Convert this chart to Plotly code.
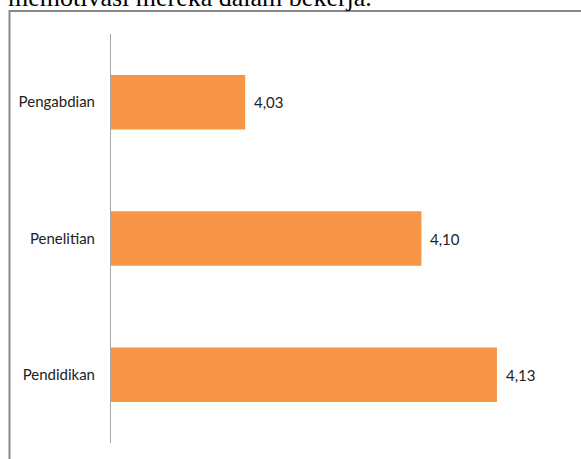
import plotly.graph_objects as go

categories = ["Pendidikan", "Penelitian", "Pengabdian"]
values = [4.13, 4.10, 4.03]
value_labels = ["4,13", "4,10", "4,03"]
heading = "memotivasi mereka dalam bekerja."

W, H = 581, 459
L, R, T, B = 111, 16, 34, 16
pw, ph = W - L - R, H - T - B

def px(x):
    return (x - L) / pw

def py(y):
    return (H - B - y) / ph

fig = go.Figure(go.Bar(
    y=categories, x=values, orientation="h",
    marker=dict(color="#F79646", line=dict(width=0)),
    hoverinfo="skip",
))

label_annots = [
    dict(x=v, y=c, text=t, xref="x", yref="y", xanchor="left", yanchor="middle",
         xshift=7, showarrow=False,
         font=dict(family="Lato", size=15, color="#222222"))
    for c, v, t in zip(categories, values, value_labels)
]

fig.update_layout(
    width=W, height=H,
    margin=dict(l=L, r=R, t=T, b=B),
    paper_bgcolor="white", plot_bgcolor="white",
    bargap=0.6, showlegend=False,
    xaxis=dict(range=[3.9767, 3.9767 + pw / 2517.6], visible=False, fixedrange=True),
    yaxis=dict(showline=True, linecolor="#a6a6a6", linewidth=1, ticks="",
               showgrid=False, ticklabelstandoff=12, fixedrange=True,
               tickfont=dict(family="Lato", size=15, color="#222222")),
    shapes=[dict(type="path", xref="paper", yref="paper",
                 path=f"M {px(9.5)},{py(470)} L {px(9.5)},{py(11)} L {px(590)},{py(11)}",
                 line=dict(color="#888888", width=2))],
    annotations=label_annots + [
        dict(text=heading, xref="paper", yref="paper", x=px(6), y=py(14),
             xanchor="left", yanchor="bottom", showarrow=False,
             font=dict(family="Liberation Serif", size=26, color="black"))],
)

fig.write_html("out.html", config={"displayModeBar": False},
               post_script="document.body.style.margin='0';document.body.style.overflow='hidden';")
